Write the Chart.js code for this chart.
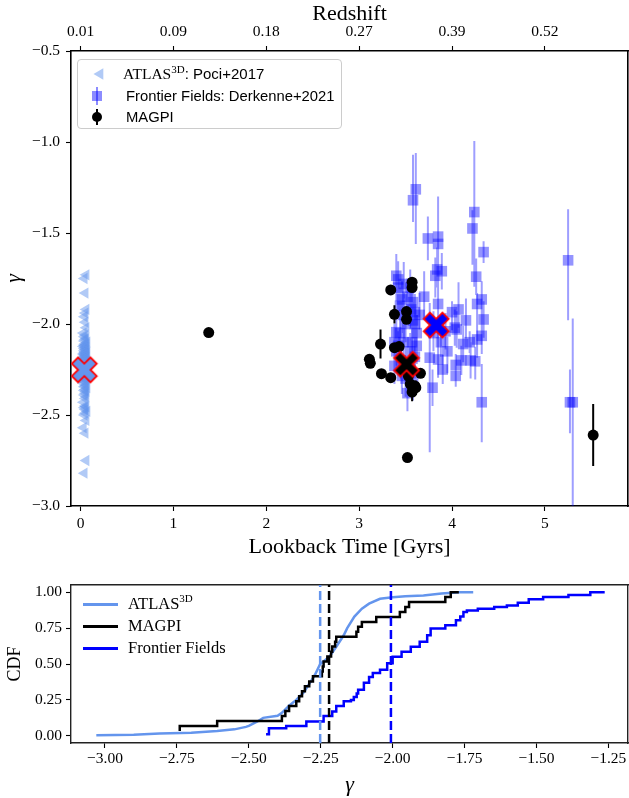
<!DOCTYPE html>
<html><head><meta charset="utf-8">
<script src="https://cdn.jsdelivr.net/npm/chart.js"></script>
<style>
html,body{margin:0;padding:0;background:#fff;width:629px;height:798px;overflow:hidden;}
#wrap{position:relative;width:629px;height:798px;background:#fff;}
canvas{position:absolute;left:0;}
#c1{top:0;} #c2{top:560px;}
.abs{position:absolute;}
.lt{position:absolute;white-space:nowrap;line-height:18px;color:#000;}
.ser{font-family:'Liberation Serif',serif;}
.sans{font-family:'Liberation Sans',sans-serif;}
sup{font-size:11px;vertical-align:0;position:relative;top:-6px;}
.l2{position:absolute;white-space:nowrap;line-height:20px;font-family:'Liberation Serif',serif;font-size:16.5px;color:#000;}
.l2 sup{font-size:11px;top:-7px;}
.h2{position:absolute;left:83px;width:35px;height:3px;}
</style></head><body>
<div id="wrap">
<canvas id="c1" width="629" height="560"></canvas>
<canvas id="c2" width="629" height="238"></canvas>

<div class="abs" style="left:77px;top:59px;width:265px;height:70px;box-sizing:border-box;border:1px solid #cccccc;border-radius:4px;background:rgba(255,255,255,0.8)"></div>
<svg class="abs" style="left:88px;top:62px" width="24" height="24"><polygon points="5.5,12 15.3,6.3 15.3,17.7" fill="rgba(100,149,237,0.5)"/></svg>
<svg class="abs" style="left:85px;top:84px" width="24" height="24"><line x1="12" y1="3" x2="12" y2="21" stroke="rgba(0,0,255,0.45)" stroke-width="2"/><rect x="7" y="7" width="10" height="10" fill="rgba(0,0,255,0.45)"/></svg>
<svg class="abs" style="left:85px;top:105px" width="24" height="24"><line x1="12" y1="4" x2="12" y2="20" stroke="#000" stroke-width="2"/><circle cx="12" cy="12" r="5" fill="#000"/></svg>
<div class="lt" style="left:123px;top:65px"><span class="ser" style="font-size:15.5px">ATLAS<sup>3D</sup></span><span class="sans" style="font-size:15px">: Poci+2017</span></div>
<div class="lt sans" style="left:126px;top:87px;font-size:14.8px">Frontier Fields: Derkenne+2021</div>
<div class="lt sans" style="left:126px;top:108px;font-size:14.8px">MAGPI</div>

<div class="h2" style="top:603px;background:#6495ED"></div>
<div class="h2" style="top:625px;background:#000"></div>
<div class="h2" style="top:647px;background:#0000ff"></div>
<div class="l2" style="left:128px;top:594px">ATLAS<sup>3D</sup></div>
<div class="l2" style="left:128px;top:616px">MAGPI</div>
<div class="l2" style="left:128px;top:638px">Frontier Fields</div>
</div>
<script>
// ================= DATA =================
const lookbackTicks = [0, 1, 2, 3, 4, 5];
const redshiftLabels = ['0.01', '0.09', '0.18', '0.27', '0.39', '0.52'];
const gammaTicksTop = [-3.0, -2.5, -2.0, -1.5, -1.0, -0.5];
const gammaTicksCdf = [-3.00, -2.75, -2.50, -2.25, -2.00, -1.75, -1.50, -1.25];
const cdfTicks = [0, 0.25, 0.5, 0.75, 1.0];

// ATLAS3D (Poci+2017)
const atlasGamma = [
  -3.03, -2.82, -2.75, -2.60, -2.57, -2.53, -2.50, -2.49, -2.48, -2.47,
  -2.46, -2.455, -2.45, -2.43, -2.41, -2.40, -2.39, -2.38, -2.37, -2.365,
  -2.36, -2.35, -2.345, -2.34, -2.335, -2.325, -2.32, -2.315, -2.31, -2.305,
  -2.30, -2.298, -2.295, -2.29, -2.288, -2.286, -2.285, -2.284, -2.28, -2.278,
  -2.275, -2.272, -2.27, -2.268, -2.265, -2.262, -2.26, -2.257, -2.255, -2.252,
  -2.25, -2.245, -2.24, -2.235, -2.23, -2.225, -2.22, -2.215, -2.21, -2.205,
  -2.20, -2.197, -2.193, -2.19, -2.187, -2.184, -2.18, -2.177, -2.174, -2.171,
  -2.168, -2.165, -2.163, -2.16, -2.158, -2.155, -2.151, -2.147, -2.143, -2.139,
  -2.135, -2.131, -2.127, -2.123, -2.12, -2.116, -2.112, -2.108, -2.10, -2.093,
  -2.085, -2.078, -2.07, -2.06, -2.05, -2.02, -1.99, -1.96, -1.94, -1.92,
  -1.83, -1.75, -1.73
];
const atlasLookback = [
  0.05, 0.04, 0.06, 0.05, 0.03, 0.06, 0.04, 0.05, 0.07, 0.05,
  0.04, 0.06, 0.05, 0.03, 0.05, 0.06, 0.04, 0.05, 0.06, 0.04,
  0.05, 0.07, 0.04, 0.05, 0.06, 0.03, 0.05, 0.04, 0.06, 0.05,
  0.06, 0.04, 0.05, 0.03, 0.05, 0.07, 0.04, 0.06, 0.05, 0.04,
  0.05, 0.06, 0.03, 0.05, 0.04, 0.06, 0.05, 0.07, 0.04, 0.05,
  0.04, 0.05, 0.06, 0.05, 0.03, 0.04, 0.06, 0.05, 0.05, 0.07,
  0.06, 0.04, 0.05, 0.05, 0.03, 0.06, 0.04, 0.05, 0.06, 0.04,
  0.05, 0.03, 0.06, 0.04, 0.05, 0.07, 0.05, 0.04, 0.06, 0.05,
  0.04, 0.06, 0.05, 0.03, 0.05, 0.04, 0.06, 0.05, 0.07, 0.04,
  0.05, 0.06, 0.04, 0.05, 0.03, 0.06, 0.05, 0.04, 0.05, 0.06,
  0.05, 0.04, 0.06
];

// Frontier Fields (Derkenne+2021)
const ffLookback = [3.61, 3.58, 4.24, 4.22, 3.74, 3.85, 3.85, 4.34, 3.40, 3.42,
  3.82, 3.89, 4.26, 3.84, 4.32, 4.27, 4.34, 3.85, 4.07, 4.00,
  3.46, 3.58, 3.60, 3.58, 3.40, 4.05, 4.03, 3.93, 4.12, 4.19,
  4.27, 4.32, 3.38, 3.57, 3.76, 3.85, 4.04, 4.04, 4.25, 4.32,
  3.79, 3.38, 3.46, 5.25, 5.30, 5.27, 3.50, 3.55, 3.45, 3.62,
  3.50, 3.55, 3.47, 3.42, 3.90, 4.10, 3.42, 3.44, 3.48, 3.52,
  3.56, 3.60, 3.62, 3.44, 3.40, 3.48, 3.55, 3.60, 3.65, 3.52,
  3.58, 3.80, 3.88, 3.95, 4.15, 4.20, 3.70];
const ffGamma = [-1.26, -1.32, -1.385, -1.475, -1.53, -1.52, -1.56, -1.605, -1.735, -1.755,
  -1.735, -1.71, -1.74, -1.70, -1.865, -1.89, -1.975, -1.89, -1.92, -1.935,
  -1.865, -1.88, -1.935, -1.98, -2.045, -2.03, -2.02, -2.04, -2.11, -2.10,
  -2.085, -2.065, -2.10, -2.10, -2.185, -2.195, -2.225, -2.285, -2.205, -2.43,
  -2.35, -2.23, -2.285, -1.65, -2.43, -2.43, -2.00, -2.15, -2.20, -2.05,
  -2.30, -1.80, -1.95, -2.12, -2.25, -2.20, -1.80, -1.90, -1.78, -1.85,
  -1.92, -2.00, -2.12, -2.05, -2.15, -2.10, -2.25, -2.18, -1.95, -2.38,
  -2.30, -2.05, -2.10, -2.15, -1.98, -2.20, -1.85];
const ffErrLo = [0.30, 0.12, 0.41, 0.20, 0.12, 0.30, 0.10, 0.06, 0.14, 0.10,
  0.12, 0.10, 0.10, 0.10, 0.10, 0.10, 0.10, 0.10, 0.10, 0.10,
  0.10, 0.10, 0.10, 0.10, 0.10, 0.10, 0.10, 0.10, 0.10, 0.06,
  0.10, 0.10, 0.10, 0.10, 0.52, 0.10, 0.06, 0.06, 0.10, 0.22,
  0.10, 0.10, 0.10, 0.33, 0.60, 0.17, 0.10, 0.10, 0.10, 0.10,
  0.10, 0.10, 0.10, 0.08, 0.08, 0.08, 0.12, 0.10, 0.08, 0.12,
  0.10, 0.14, 0.10, 0.08, 0.12, 0.10, 0.10, 0.12, 0.08, 0.10,
  0.12, 0.10, 0.08, 0.12, 0.10, 0.10, 0.12];
const ffErrHi = [0.20, 0.25, 0.39, 0.10, 0.12, 0.22, 0.10, 0.06, 0.12, 0.10,
  0.10, 0.10, 0.10, 0.12, 0.10, 0.06, 0.10, 0.10, 0.15, 0.06,
  0.10, 0.10, 0.10, 0.10, 0.10, 0.10, 0.10, 0.10, 0.10, 0.06,
  0.10, 0.10, 0.10, 0.10, 0.30, 0.15, 0.06, 0.06, 0.08, 0.21,
  0.10, 0.10, 0.10, 0.28, 0.46, 0.18, 0.10, 0.10, 0.10, 0.10,
  0.10, 0.10, 0.10, 0.08, 0.08, 0.08, 0.14, 0.10, 0.12, 0.10,
  0.12, 0.10, 0.08, 0.12, 0.10, 0.12, 0.10, 0.08, 0.12, 0.10,
  0.10, 0.12, 0.10, 0.08, 0.12, 0.10, 0.14];

// MAGPI
const magpiLookback = [3.34, 3.57, 3.57, 3.38, 3.51, 3.51, 3.23, 3.38, 3.43, 3.11,
  3.12, 3.24, 3.34, 3.66, 3.53, 3.55, 3.58, 3.57, 3.61, 3.52,
  5.52, 1.38, 3.50, 3.47, 3.60];
const magpiGamma = [-1.813, -1.77, -1.80, -1.947, -1.932, -1.974, -2.11, -2.13, -2.124, -2.194,
  -2.216, -2.273, -2.295, -2.271, -2.286, -2.33, -2.359, -2.374, -2.35, -2.734,
  -2.61, -2.047, -2.21, -2.25, -2.34];
const magpiErr = [0.02, 0.02, 0.02, 0.05, 0.02, 0.02, 0.08, 0.02, 0.02, 0.02,
  0.02, 0.02, 0.02, 0.02, 0.02, 0.02, 0.02, 0.05, 0.04, 0.02,
  0.17, 0.02, 0.02, 0.02, 0.02];

// Medians (crosses / dashed lines): ATLAS3D, MAGPI, Frontier Fields
const medianLookback = [0.04, 3.51, 3.83];
const medianGamma = [-2.252, -2.221, -2.006];

// CDFs
const atlasCdfGamma = [-3.03, -2.90, -2.81, -2.70, -2.61, -2.55, -2.51, -2.50, -2.47, -2.45,
  -2.40, -2.385, -2.36, -2.335, -2.31, -2.284, -2.27, -2.252, -2.22, -2.196,
  -2.17, -2.158, -2.133, -2.107, -2.082, -2.044, -2.0, -1.956, -1.893, -1.83,
  -1.767, -1.72];
const atlasCdfLevel = [0.004, 0.008, 0.016, 0.022, 0.034, 0.045, 0.062, 0.069, 0.10, 0.125,
  0.14, 0.16, 0.21, 0.25, 0.30, 0.38, 0.425, 0.50, 0.55, 0.62,
  0.70, 0.75, 0.83, 0.885, 0.92, 0.954, 0.965, 0.972, 0.977, 0.99,
  1.0, 1.0];
const magpiCdfGamma = [-2.74, -2.74, -2.61, -2.385, -2.373, -2.36, -2.335, -2.325, -2.315, -2.305,
  -2.29, -2.277, -2.246, -2.243, -2.24, -2.227, -2.214, -2.21, -2.2, -2.196,
  -2.126, -2.12, -2.107, -2.057, -1.975, -1.956, -1.943, -1.817, -1.798, -1.77];
const magpiCdfLevel = [0.034, 0.069, 0.103, 0.138, 0.172, 0.207, 0.241, 0.276, 0.31, 0.345,
  0.379, 0.414, 0.448, 0.483, 0.517, 0.552, 0.586, 0.621, 0.655, 0.69,
  0.724, 0.759, 0.793, 0.828, 0.862, 0.897, 0.931, 0.966, 1.0, 1.0];
const ffCdfGamma = [-2.44, -2.43, -2.37, -2.30, -2.24, -2.21, -2.196, -2.17, -2.145, -2.135,
  -2.125, -2.12, -2.10, -2.082, -2.069, -2.044, -2.019, -2.0, -1.969, -1.937,
  -1.906, -1.88, -1.868, -1.817, -1.78, -1.765, -1.754, -1.742, -1.704, -1.647,
  -1.603, -1.565, -1.527, -1.477, -1.389, -1.313, -1.263];
const ffCdfLevel = [0.011, 0.053, 0.069, 0.10, 0.138, 0.17, 0.207, 0.24, 0.25, 0.27,
  0.295, 0.32, 0.37, 0.41, 0.437, 0.46, 0.506, 0.55, 0.586, 0.62,
  0.655, 0.70, 0.747, 0.77, 0.805, 0.83, 0.862, 0.873, 0.885, 0.897,
  0.908, 0.926, 0.95, 0.966, 0.98, 1.0, 1.0];

// ================= STYLE HELPERS =================
const SERIF = "'Liberation Serif', serif";
const minus = s => s.replace('-', '\u2212');
const COL_ATLAS = '#6495ED';
const COL_FF = '#0000ff';

function makeX(fill) {
  const s = 30, c = document.createElement('canvas');
  c.width = s; c.height = s;
  const g = c.getContext('2d');
  const a = 13.2, w = 4.4, cx = s / 2, cy = s / 2;
  const p = [[w,w],[a,w],[a,-w],[w,-w],[w,-a],[-w,-a],[-w,-w],[-a,-w],[-a,w],[-w,w],[-w,a],[w,a]];
  g.beginPath();
  p.forEach((q, i) => {
    const x = (q[0] - q[1]) * Math.SQRT1_2, y = (q[0] + q[1]) * Math.SQRT1_2;
    if (i) g.lineTo(cx + x, cy + y); else g.moveTo(cx + x, cy + y);
  });
  g.closePath();
  g.fillStyle = fill; g.fill();
  g.lineWidth = 1.8; g.strokeStyle = '#ff0000'; g.lineJoin = 'miter'; g.stroke();
  return c;
}
const crossStyles = [makeX(COL_ATLAS), makeX('#000000'), makeX(COL_FF)];

function errSegments(xs, ys, lo, hi) {
  const out = [];
  ys.forEach((g, i) => {
    out.push({x: xs[i], y: g - lo[i]}, {x: xs[i], y: g + hi[i]}, {x: xs[i], y: null});
  });
  return out;
}
const pts = (xs, ys) => ys.map((v, i) => ({x: xs[i], y: v}));

function fixSize(s, size) {
  if (s.isHorizontal()) s.height = size; else s.width = size;
  s.paddingLeft = 0; s.paddingRight = 0; s.paddingTop = 0; s.paddingBottom = 0;
}
function axisCommon(size, borderCol, borderW, extra) {
  return Object.assign({
    type: 'linear',
    grid: {display: true, drawOnChartArea: false, drawTicks: true, tickLength: 5, tickWidth: 1.1, tickColor: '#000', color: '#000'},
    border: {display: true, color: borderCol, width: borderW},
    afterFit: s => fixSize(s, size)
  }, extra);
}
function bareAxis(pos, min, max, size, borderCol, borderW) {
  return {
    type: 'linear', position: pos, min: min, max: max,
    grid: {display: true, drawOnChartArea: false, drawTicks: false, color: '#000'},
    border: {display: true, color: borderCol, width: borderW},
    ticks: {display: false},
    afterFit: s => fixSize(s, size)
  };
}

Chart.defaults.font.family = SERIF;
Chart.defaults.color = '#000';

// ================= TOP PANEL =================
const X_MIN = -0.103, X_MAX = 5.895;
new Chart(document.getElementById('c1'), {
  type: 'scatter',
  data: {
    datasets: [
      {label: 'medians', data: pts(medianLookback, medianGamma), pointStyle: crossStyles,
       pointRadius: 12, order: 0},
      {label: 'MAGPI', data: pts(magpiLookback, magpiGamma), pointStyle: 'circle', pointRadius: 5.5,
       backgroundColor: '#000', borderWidth: 0, order: 1},
      {label: 'MAGPI err', data: errSegments(magpiLookback, magpiGamma, magpiErr, magpiErr),
       showLine: true, pointRadius: 0, borderColor: '#000', borderWidth: 2, spanGaps: false, order: 2},
      {label: 'Frontier Fields', data: pts(ffLookback, ffGamma), pointStyle: 'rect', pointRadius: 7.5,
       backgroundColor: 'rgba(0,0,255,0.42)', borderWidth: 0, order: 3},
      {label: 'FF err', data: errSegments(ffLookback, ffGamma, ffErrLo, ffErrHi),
       showLine: true, pointRadius: 0, borderColor: 'rgba(0,0,255,0.38)', borderWidth: 2, spanGaps: false, order: 4},
      {label: 'ATLAS3D', data: pts(atlasLookback, atlasGamma), pointStyle: 'triangle', rotation: -90,
       pointRadius: 6.5, backgroundColor: 'rgba(100,149,237,0.5)', borderWidth: 0, order: 5}
    ]
  },
  options: {
    responsive: false, animation: false, devicePixelRatio: 1,
    layout: {padding: 0, autoPadding: false},
    plugins: {legend: {display: false}, tooltip: {enabled: false}},
    scales: {
      x: axisCommon(54, '#000', 1.6, {
        position: 'bottom', min: X_MIN, max: X_MAX,
        afterBuildTicks: s => { s.ticks = lookbackTicks.map(v => ({value: v})); },
        ticks: {font: {family: SERIF, size: 15.5}, padding: 4, maxRotation: 0, callback: v => String(v)},
        title: {display: true, text: 'Lookback Time [Gyrs]', font: {family: SERIF, size: 22}, padding: {top: 0, bottom: 0}}
      }),
      xTop: axisCommon(51, '#000', 1.6, {
        position: 'top', min: X_MIN, max: X_MAX,
        afterBuildTicks: s => { s.ticks = lookbackTicks.map(v => ({value: v})); },
        ticks: {font: {family: SERIF, size: 15.5}, padding: 5, maxRotation: 0,
                callback: v => redshiftLabels[lookbackTicks.indexOf(v)]},
        title: {display: true, text: 'Redshift', font: {family: SERIF, size: 22}, padding: {top: 1, bottom: 0}}
      }),
      y: axisCommon(71, '#000', 1.6, {
        position: 'left', min: -3.0, max: -0.5,
        afterBuildTicks: s => { s.ticks = gammaTicksTop.map(v => ({value: v})); },
        ticks: {font: {family: SERIF, size: 15.5}, padding: 6, callback: v => minus(v.toFixed(1))},
        title: {display: true, text: 'γ', font: {family: SERIF, size: 22, style: 'italic'}, padding: {top: 1, bottom: 0}}
      }),
      yRight: bareAxis('right', -3.0, -0.5, 1, '#000', 1.6)
    }
  }
});

// ================= BOTTOM PANEL (CDF) =================
const G_MIN = -3.118, G_MAX = -1.182;
const vline = (g, col, ord) => ({
  data: [{x: g, y: -0.05}, {x: g, y: 1.05}], showLine: true, pointRadius: 0,
  borderColor: col, borderWidth: 2.5, borderDash: [9, 4], order: ord
});
new Chart(document.getElementById('c2'), {
  type: 'scatter',
  data: {
    datasets: [
      vline(medianGamma[2], COL_FF, 1),
      vline(medianGamma[1], '#000', 2),
      vline(medianGamma[0], COL_ATLAS, 3),
      {label: 'Frontier Fields', data: pts(ffCdfGamma, ffCdfLevel), showLine: true, stepped: 'before',
       pointRadius: 0, borderColor: COL_FF, borderWidth: 2.5, order: 4},
      {label: 'MAGPI', data: pts(magpiCdfGamma, magpiCdfLevel), showLine: true, stepped: 'before',
       pointRadius: 0, borderColor: '#000', borderWidth: 2.5, order: 5},
      {label: 'ATLAS3D', data: pts(atlasCdfGamma, atlasCdfLevel), showLine: true,
       pointRadius: 0, borderColor: COL_ATLAS, borderWidth: 2.5, order: 6}
    ]
  },
  options: {
    responsive: false, animation: false, devicePixelRatio: 1,
    layout: {padding: 0, autoPadding: false},
    plugins: {legend: {display: false}, tooltip: {enabled: false}},
    scales: {
      x: axisCommon(55, '#222', 1.4, {
        position: 'bottom', min: G_MIN, max: G_MAX,
        afterBuildTicks: s => { s.ticks = gammaTicksCdf.map(v => ({value: v})); },
        ticks: {font: {family: SERIF, size: 15.5}, padding: 2, maxRotation: 0, callback: v => minus(v.toFixed(2))},
        title: {display: true, text: 'γ', font: {family: SERIF, size: 22, style: 'italic'}, padding: {top: 0, bottom: 0}}
      }),
      xTop: bareAxis('top', G_MIN, G_MAX, 25, '#222', 1.4),
      y: axisCommon(71, '#222', 1.4, {
        position: 'left', min: -0.05, max: 1.05,
        afterBuildTicks: s => { s.ticks = cdfTicks.map(v => ({value: v})); },
        ticks: {font: {family: SERIF, size: 15.5}, padding: 4, callback: v => v.toFixed(2)},
        title: {display: true, text: 'CDF', font: {family: SERIF, size: 18}, padding: {top: 4, bottom: 0}}
      }),
      yRight: bareAxis('right', -0.05, 1.05, 1, '#222', 1.4)
    }
  }
});
</script>
</body></html>
